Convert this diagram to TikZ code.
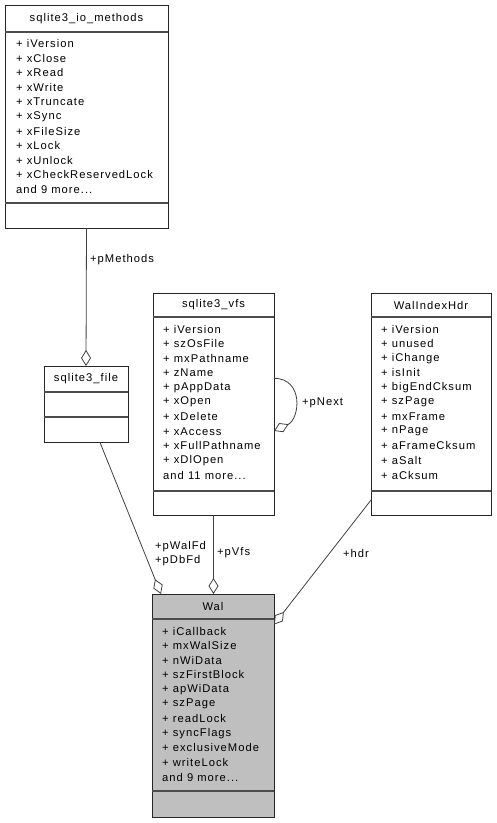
\documentclass[tikz,border=0pt]{standalone}
\usepackage{fontspec}
\setmainfont{Liberation Sans}[LetterSpace=9]
\usetikzlibrary{arrows.meta}
\newcommand\mydots{...}
\definecolor{edgec}{HTML}{404040}
\definecolor{walfill}{HTML}{BFBFBF}
\tikzset{
  classbox/.style={draw=black!85, line width=0.9pt, inner sep=0pt, outer sep=0pt},
  sepline/.style={draw=black!70, line width=1.3pt},
  txt/.style={inner sep=0pt, anchor=west, font=\fontsize{11.2}{13}\selectfont},
  ttl/.style={inner sep=0pt, font=\fontsize{11.2}{13}\selectfont},
  lbl/.style={inner sep=0pt, anchor=west, font=\fontsize{11.2}{13}\selectfont},
  assoc/.style={draw=edgec, line width=0.8pt, -{Diamond[open, length=16pt, width=10pt, line width=0.8pt]}},
}
\begin{document}
\begin{tikzpicture}[x=1pt, y=-1pt]
\useasboundingbox (0,0) rectangle (496,823);

% sqlite3_io_methods
\node[classbox, minimum width=163pt, minimum height=223pt] (io) at (86.5,116.5) {};
\draw[sepline] (5,32) -- (168,32);
\draw[sepline] (5,203) -- (168,203);
\node[ttl] (io-t) at (86.5,19) {sqlite3\_io\_methods};
\foreach \s [count=\i from 0] in {+ iVersion, + xClose, + xRead, + xWrite, + xTruncate, + xSync, + xFileSize, + xLock, + xUnlock, + xCheckReservedLock, {and 9 more\mydots}}
  \node[txt] (io-\i) at (16, 43.5+14.6*\i) {\s};

% sqlite3_file
\node[classbox, minimum width=84pt, minimum height=76pt] (file) at (86,404) {};
\draw[sepline] (44,392) -- (128,392);
\draw[sepline] (44,417) -- (128,417);
\node[ttl] (file-t) at (86,379) {sqlite3\_file};

% sqlite3_vfs
\node[classbox, minimum width=121pt, minimum height=222pt] (vfs) at (213.5,404) {};
\draw[sepline] (153,317) -- (274,317);
\draw[sepline] (153,491) -- (274,491);
\node[ttl] (vfs-t) at (213.5,305) {sqlite3\_vfs};
\foreach \s [count=\i from 0] in {+ iVersion, + szOsFile, + mxPathname, + zName, + pAppData, + xOpen, + xDelete, + xAccess, + xFullPathname, + xDlOpen, {and 11 more\mydots}}
  \node[txt] (vfs-\i) at (163, 329+14.6*\i) {\s};

% WalIndexHdr
\node[classbox, minimum width=120pt, minimum height=222pt] (hdr) at (431,404) {};
\draw[sepline] (371,317) -- (491,317);
\draw[sepline] (371,491) -- (491,491);
\node[ttl] (hdr-t) at (431,305) {WalIndexHdr};
\foreach \s [count=\i from 0] in {+ iVersion, + unused, + iChange, + isInit, + bigEndCksum, + szPage, + mxFrame, + nPage, + aFrameCksum, + aSalt, + aCksum}
  \node[txt] (hdr-\i) at (381, 329+14.6*\i) {\s};

% Wal
\node[classbox, fill=walfill, minimum width=122pt, minimum height=223pt] (wal) at (213,705.5) {};
\draw[sepline] (152,619) -- (274,619);
\draw[sepline] (152,791) -- (274,791);
\node[ttl] (wal-t) at (213,606.5) {Wal};
\foreach \s [count=\i from 0] in {+ iCallback, + mxWalSize, + nWiData, + szFirstBlock, + apWiData, + szPage, + readLock, + syncFlags, + exclusiveMode, + writeLock, {and 9 more\mydots}}
  \node[txt] (wal-\i) at (162, 631+14.6*\i) {\s};

% connectors
\draw[assoc] (io.south) -- (file.north);
\node[lbl] (l-pm) at (90,260) {+pMethods};

\draw[assoc] (file.-70) -- (wal.115);
\node[lbl] (l-wfd) at (155,547) {+pWalFd};
\node[lbl] (l-dfd) at (155,561) {+pDbFd};

\draw[assoc] (vfs.south) -- (wal.north -| vfs.south);
\node[lbl] (l-vfs) at (217,553) {+pVfs};

\draw[assoc] (hdr.238) -- (wal.53);
\node[lbl] (l-hdr) at (343,553) {+hdr};

\draw[assoc] (vfs.23) .. controls +(30,0) and +(26,-12) .. (vfs.-24);
\node[lbl] (l-next) at (302,403) {+pNext};
\end{tikzpicture}
\end{document}
